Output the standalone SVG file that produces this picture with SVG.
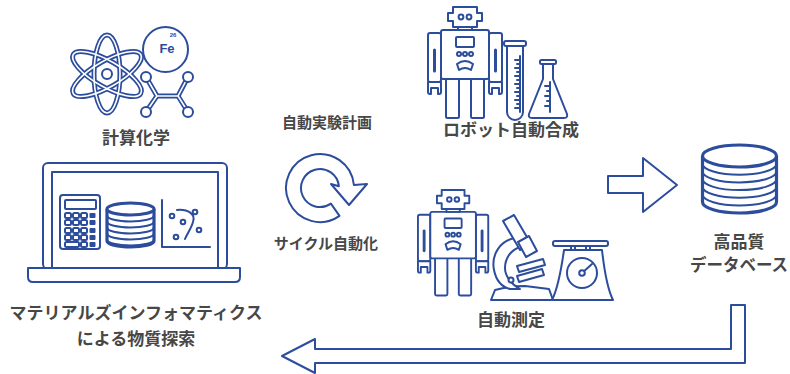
<svg xmlns="http://www.w3.org/2000/svg" xmlns:xlink="http://www.w3.org/1999/xlink" width="790" height="374" viewBox="0 0 790 374">
  <style>
    .ic { fill: #fff; stroke: #2c4c9c; stroke-width: 2; stroke-linejoin: round; stroke-linecap: round; }
    .ln { fill: none; stroke: #2c4c9c; stroke-width: 2; stroke-linecap: round; stroke-linejoin: round; }
    .bar { fill: none; stroke: #2c4c9c; stroke-width: 3; stroke-linecap: round; }
    .fillb { fill: #2c4c9c; stroke: none; }
    .dbl { fill: none; stroke: #2c4c9c; stroke-width: 5; }
    .dblw { fill: none; stroke: #fff; stroke-width: 1.6; }
    .db { fill: #fff; stroke: #2c4c9c; stroke-width: 3.2; }
    .t { font-family: "Noto Sans CJK JP", "Noto Sans", sans-serif; font-weight: 700; fill: #474747; text-anchor: middle; }
  </style>
  <defs>
    <!-- robot figure, 76 x 111 -->
    <g id="robotShape">
      <!-- arms -->
      <rect class="ic" x="1" y="26" width="13" height="49" rx="2"/>
      <rect class="ic" x="62" y="26" width="13" height="49" rx="2"/>
      <line class="bar" x1="7.5" y1="43" x2="7.5" y2="64"/>
      <line class="bar" x1="68.5" y1="43" x2="68.5" y2="64"/>
      <path class="ic" d="M1,75 H14 V85 Q14,87 12,87 H11 V81 H4 V87 H3 Q1,87 1,85 Z"/>
      <path class="ic" d="M62,75 H75 V85 Q75,87 73,87 H72 V81 H65 V87 H64 Q62,87 62,85 Z"/>
      <!-- legs -->
      <rect class="ic" x="19" y="71" width="13" height="40" rx="1.5"/>
      <rect class="ic" x="44" y="71" width="13" height="40" rx="1.5"/>
      <!-- torso -->
      <rect class="ic" x="14" y="23" width="48" height="49" rx="2"/>
      <rect class="ic" x="29" y="30" width="18" height="10" rx="1"/>
      <circle class="ic" cx="32" cy="47" r="2"/>
      <circle class="ic" cx="38" cy="47" r="2"/>
      <circle class="ic" cx="44" cy="47" r="2"/>
      <path class="ic" d="M30,57 Q38,51 46,57 L44,63 Q38,59 32,63 Z"/>
      <!-- neck and head -->
      <rect class="ic" x="31" y="20" width="14" height="3"/>
      <path class="ic" d="M26,0 H50 V6 H55 V14 H50 V20 H26 V14 H21 V6 H26 Z"/>
      <circle class="ic" cx="34" cy="10" r="2.4"/>
      <circle class="ic" cx="42" cy="10" r="2.4"/>
    </g>
  </defs>

  <rect width="790" height="374" fill="#fff"/>

  <!-- computational chemistry -->
  <g id="chemistry">
    <g transform="translate(107,74)">
      <ellipse class="dbl" rx="39" ry="13" transform="rotate(90)"/>
      <ellipse class="dbl" rx="39" ry="13" transform="rotate(30)"/>
      <ellipse class="dbl" rx="39" ry="13" transform="rotate(-30)"/>
      <ellipse class="dblw" rx="39" ry="13" transform="rotate(90)"/>
      <ellipse class="dblw" rx="39" ry="13" transform="rotate(30)"/>
      <ellipse class="dblw" rx="39" ry="13" transform="rotate(-30)"/>
      <circle class="ic" r="5"/>
    </g>
    <circle class="ic" cx="165.5" cy="49.5" r="22.5"/>
    <text x="167" y="53" font-family="Liberation Sans, Arial, sans-serif" font-weight="700" font-size="13" fill="#2c4c9c" text-anchor="middle">Fe</text>
    <text x="173" y="37" font-family="Liberation Sans, Arial, sans-serif" font-weight="700" font-size="6" fill="#2c4c9c" text-anchor="middle">26</text>
    <!-- molecule -->
    <path class="dbl" d="M146,77 L157,96 L146,112 M157,96 H178 M188,77 L178,96 L188,112"/>
    <path class="dblw" d="M146,77 L157,96 L146,112 M157,96 H178 M188,77 L178,96 L188,112"/>
    <circle class="ic" cx="146" cy="77" r="5" stroke-width="2.6"/>
    <circle class="ic" cx="188" cy="77" r="5" stroke-width="2.6"/>
    <circle class="ic" cx="146" cy="112" r="5" stroke-width="2.6"/>
    <circle class="ic" cx="188" cy="112" r="5" stroke-width="2.6"/>
    <text class="t" x="136" y="144" font-size="17">計算化学</text>
  </g>

  <!-- laptop with analysis tools -->
  <g id="laptop">
    <rect class="ic" x="43" y="163" width="184" height="106" rx="5" stroke-width="2.5"/>
    <rect class="ic" x="52" y="172" width="166" height="96" stroke-width="2.2"/>
    <path class="ic" d="M28,268 H240 V277 Q240,282 235,282 H33 Q28,282 28,277 Z" stroke-width="2.5"/>
    <!-- calculator -->
    <rect class="ic" x="60" y="195" width="40" height="54" rx="3" stroke-width="2.2"/>
    <rect class="ic" x="65" y="200" width="31" height="9" rx="1" stroke-width="1.8"/>
    <g>
      <rect class="ic" x="65" y="213" width="6" height="5" rx="1.5" stroke-width="1.6"/>
      <rect class="ic" x="73" y="213" width="6" height="5" rx="1.5" stroke-width="1.6"/>
      <rect class="ic" x="81" y="213" width="6" height="5" rx="1.5" stroke-width="1.6"/>
      <rect class="ic" x="65" y="220" width="6" height="5" rx="1.5" stroke-width="1.6"/>
      <rect class="ic" x="73" y="220" width="6" height="5" rx="1.5" stroke-width="1.6"/>
      <rect class="ic" x="81" y="220" width="6" height="5" rx="1.5" stroke-width="1.6"/>
      <rect class="ic" x="65" y="228" width="6" height="5" rx="1.5" stroke-width="1.6"/>
      <rect class="ic" x="73" y="228" width="6" height="5" rx="1.5" stroke-width="1.6"/>
      <rect class="ic" x="81" y="228" width="6" height="5" rx="1.5" stroke-width="1.6"/>
      <rect class="ic" x="65" y="235" width="6" height="5" rx="1.5" stroke-width="1.6"/>
      <rect class="ic" x="73" y="235" width="6" height="5" rx="1.5" stroke-width="1.6"/>
      <rect class="ic" x="81" y="235" width="6" height="5" rx="1.5" stroke-width="1.6"/>
      <rect class="ic" x="65" y="242" width="14" height="5" rx="1.5" stroke-width="1.6"/>
      <rect class="ic" x="81" y="242" width="6" height="5" rx="1.5" stroke-width="1.6"/>
    </g>
    <rect class="fillb" x="89.5" y="213" width="6" height="5" rx="1"/>
    <rect class="fillb" x="89.5" y="220" width="6" height="5" rx="1"/>
    <rect class="fillb" x="89.5" y="228" width="6" height="5" rx="1"/>
    <rect class="fillb" x="89.5" y="235" width="6" height="5" rx="1"/>
    <rect class="fillb" x="89.5" y="242" width="6" height="5" rx="1"/>
    <!-- small database -->
    <g>
      <path class="db" stroke-width="2.4" d="M107,209 V241 A23.5,6 0 0,0 154,241 V209"/>
      <ellipse class="db" stroke-width="2.4" cx="130.5" cy="209" rx="23.5" ry="6"/>
      <path class="ln" stroke-width="2.4" d="M107,215.5 A23.5,6 0 0,0 154,215.5 M107,221.5 A23.5,6 0 0,0 154,221.5 M107,227.5 A23.5,6 0 0,0 154,227.5 M107,233.5 A23.5,6 0 0,0 154,233.5 M107,239.5 A23.5,6 0 0,0 154,239.5"/>
    </g>
    <!-- scatter chart -->
    <path class="ln" stroke-width="2.4" d="M162,200 V247 H210"/>
    <path class="ln" stroke-width="1.8" d="M177,210 C188,209 196,214 193,222 C191,229 187,234 185,239"/>
    <circle class="ic" cx="172" cy="216" r="2.3" stroke-width="1.6"/>
    <circle class="ic" cx="183" cy="222" r="2.3" stroke-width="1.6"/>
    <circle class="ic" cx="195" cy="212" r="2.3" stroke-width="1.6"/>
    <circle class="ic" cx="199" cy="230" r="2.3" stroke-width="1.6"/>
    <circle class="ic" cx="176" cy="237" r="2.3" stroke-width="1.6"/>
  </g>
  <text class="t" x="136" y="319" font-size="17">マテリアルズインフォマティクス</text>
  <text class="t" x="136" y="345" font-size="17">による物質探索</text>

  <!-- automated experiment planning cycle -->
  <g id="cycle">
    <text class="t" x="327" y="128" font-size="15">自動実験計画</text>
    <path class="ic" d="M339.5,215.9 A34,34 0 1,1 353.9,185 L367,184 L349,205 L331,184 L338.9,186.3 A19,19 0 1,0 330.9,203.6 Z"/>
    <text class="t" x="326" y="249" font-size="15">サイクル自動化</text>
  </g>

  <!-- robotic synthesis -->
  <g id="synthesis">
    <use xlink:href="#robotShape" href="#robotShape" transform="translate(427,7)"/>
    <!-- test tube -->
    <path class="ic" d="M507,46 V112 A8,8 0 0,0 523,112 V46"/>
    <rect class="ic" x="504" y="41" width="22" height="5" rx="2"/>
    <path class="ln" stroke-width="1.6" d="M520,56 V112 M515,60 H520 M517,64 H520 M515,68 H520 M517,72 H520 M515,76 H520 M517,80 H520 M515,84 H520 M517,88 H520 M515,92 H520 M517,96 H520 M515,100 H520 M517,104 H520 M515,108 H520"/>
    <!-- flask -->
    <path class="ic" d="M543,64 V79 L529,114 Q528,118 532,118 H564 Q568,118 567,114 L553,79 V64"/>
    <rect class="ic" x="540" y="60" width="16" height="4" rx="1.5"/>
    <path class="ln" stroke-width="1.6" d="M550,82 V112 M545,86 H550 M547,91 H550 M545,96 H550 M547,101 H550 M545,106 H550"/>
    <text class="t" x="511" y="136" font-size="17">ロボット自動合成</text>
  </g>

  <!-- automated measurement -->
  <g id="measurement">
    <use xlink:href="#robotShape" href="#robotShape" transform="translate(417,190) scale(0.95)"/>
    <!-- microscope -->
    <path class="ic" d="M491,300 L495,290 Q510,286 525,286 L549,289 L553,300 Z"/>
    <path class="ic" d="M516,238 C500,240 491,255 494,270 C496,280 502,287 510,289 L520,289 C511,284 505,276 505,268 C505,258 511,250 520,247 Z"/>
    <path class="ic" d="M503,221 L514,215 L531,244 L520,250 Z"/>
    <path class="ic" d="M518,242 L529,236 L537,251 L526,257 Z"/>
    <path class="ic" d="M517,266 L543,259 L545,265 L519,272 Z"/>
    <path class="ic" d="M517,276 L542,269 L544,275 L519,282 Z"/>
    <circle class="ic" cx="511" cy="280" r="2.5"/>
    <!-- weighing scale -->
    <rect class="ic" x="571" y="245" width="4" height="6"/>
    <rect class="ic" x="586" y="245" width="4" height="6"/>
    <rect class="ic" x="553" y="241" width="55" height="5" rx="2"/>
    <path class="ic" d="M564,250 H602 Q606,286 613,300 H552 Q559,286 564,250 Z"/>
    <circle class="ic" cx="582" cy="273" r="15"/>
    <line class="ln" x1="582" y1="273" x2="592" y2="264"/>
    <circle class="ic" cx="582" cy="273" r="2.8"/>
    <text class="t" x="511" y="326" font-size="17">自動測定</text>
  </g>

  <!-- high-quality database -->
  <g id="database">
    <path class="db" d="M702.5,156 V202 A37,11 0 0,0 776.5,202 V156"/>
    <ellipse class="db" cx="739.5" cy="156" rx="37" ry="11"/>
    <path class="ln" stroke-width="3.2" d="M702.5,163.7 A37,11 0 0,0 776.5,163.7 M702.5,171.4 A37,11 0 0,0 776.5,171.4 M702.5,179.1 A37,11 0 0,0 776.5,179.1 M702.5,186.8 A37,11 0 0,0 776.5,186.8 M702.5,194.5 A37,11 0 0,0 776.5,194.5"/>
    <text class="t" x="739" y="248" font-size="17">高品質</text>
    <text class="t" x="739" y="271" font-size="16.5">データベース</text>
  </g>

  <!-- flow arrows -->
  <g id="connectors">
    <path class="ic" d="M608,176 H643 V158 L677,185 L643,212 V193 H608 Z"/>
    <path class="ic" d="M745,305 V363 H315 V373 L282,356 L315,339 V349 H731 V305 Z"/>
  </g>
</svg>
